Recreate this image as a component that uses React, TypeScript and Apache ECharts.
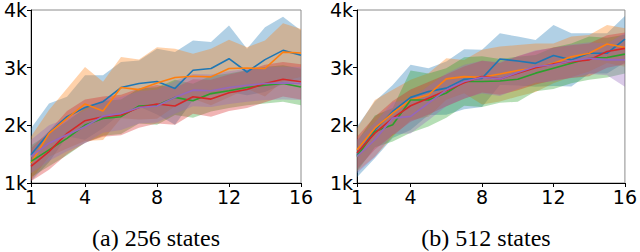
import React, { useEffect, useRef } from "react";
import * as echarts from "echarts";

const XS = [1, 2, 3, 4, 5, 6, 7, 8, 9, 10, 11, 12, 13, 14, 15, 16];
const X_TICKS = [1, 4, 8, 12, 16];
const Y_TICKS = [1000, 2000, 3000, 4000];
const CAPTIONS = ["(a) 256 states", "(b) 512 states"];
const NAMES = ["blue", "orange", "green", "red", "purple"];
const COLORS = ["#1f77b4", "#ff7f0e", "#2ca02c", "#d62728", "#9467bd"];

// ---- (a) 256 states ----
const blueA = [1490, 1870, 2150, 2310, 2410, 2655, 2725, 2760, 2640, 2955, 2985, 3155, 2925, 3140, 3300, 3215];
const orangeA = [1345, 1860, 2120, 2370, 2250, 2655, 2620, 2735, 2830, 2850, 2840, 2985, 2995, 2985, 3270, 3255];
const greenA = [1375, 1575, 1775, 2005, 2120, 2150, 2335, 2350, 2485, 2425, 2550, 2600, 2655, 2695, 2725, 2665];
const redA = [1290, 1545, 1860, 2080, 2150, 2180, 2310, 2370, 2335, 2495, 2455, 2565, 2620, 2725, 2800, 2755];
const purpleA = [1460, 1690, 1835, 1975, 2160, 2205, 2310, 2335, 2485, 2610, 2600, 2655, 2695, 2725, 2735, 2725];

const blueAUp = [1950, 2380, 2495, 2870, 2870, 3100, 3125, 3330, 3270, 3470, 3445, 3730, 3330, 3700, 3885, 3645];
const blueALo = [1030, 1360, 1805, 1750, 1950, 2210, 2325, 2190, 2010, 2440, 2525, 2580, 2520, 2580, 2715, 2785];
const orangeAUp = [1805, 2265, 2640, 3010, 2755, 3185, 3140, 3355, 3330, 3240, 3330, 3485, 3355, 3470, 3770, 3670];
const orangeALo = [1050, 1455, 1600, 1730, 1745, 2125, 2100, 2115, 2330, 2460, 2350, 2485, 2635, 2500, 2770, 2840];
const greenAUp = [1650, 1860, 2070, 2300, 2420, 2450, 2640, 2660, 2790, 2720, 2860, 2900, 2960, 3010, 3040, 2980];
const greenALo = [1100, 1290, 1480, 1700, 1820, 1850, 2030, 2010, 2180, 2130, 2240, 2300, 2350, 2380, 2410, 2350];
const redAUp = [1600, 1900, 2250, 2450, 2500, 2530, 2640, 2700, 2650, 2800, 2790, 2880, 2950, 3050, 3100, 3060];
const redALo = [1030, 1230, 1500, 1700, 1800, 1830, 1960, 2030, 2010, 2200, 2150, 2250, 2300, 2400, 2500, 2450];
const purpleAUp = [1750, 2000, 2120, 2260, 2450, 2490, 2590, 2620, 2770, 2890, 2880, 2940, 2980, 3010, 3020, 3010];
const purpleALo = [1170, 1380, 1550, 1690, 1870, 1920, 2030, 2050, 2200, 2330, 2320, 2370, 2410, 2440, 2450, 2440];

// ---- (b) 512 states ----
const blueB = [1490, 1920, 2240, 2485, 2585, 2645, 2800, 2815, 3150, 3115, 3075, 3210, 3135, 3250, 3250, 3495];
const orangeB = [1575, 1950, 2210, 2440, 2530, 2805, 2845, 2835, 2890, 2950, 3000, 3075, 3190, 3250, 3410, 3350];
const greenB = [1460, 1895, 2010, 2440, 2440, 2560, 2760, 2760, 2770, 2800, 2905, 2990, 3075, 3165, 3175, 3235];
const redB = [1520, 1865, 2125, 2340, 2470, 2605, 2740, 2845, 2805, 2905, 3000, 3065, 3105, 3135, 3280, 3335];
const purpleB = [1460, 1750, 2125, 2155, 2385, 2615, 2760, 2835, 2805, 2915, 3020, 3050, 3115, 3165, 3135, 3135];

const blueBUp = [1980, 2415, 2700, 3050, 2990, 3105, 3320, 3310, 3595, 3540, 3480, 3740, 3595, 3595, 3595, 3895];
const blueBLo = [1100, 1430, 1780, 1920, 2180, 2185, 2280, 2320, 2700, 2690, 2670, 2680, 2675, 2900, 2900, 3090];
const orangeBUp = [1950, 2440, 2615, 2790, 2905, 3165, 3135, 3310, 3365, 3395, 3420, 3420, 3540, 3565, 3740, 3685];
const orangeBLo = [1200, 1460, 1800, 2090, 2150, 2445, 2555, 2360, 2415, 2500, 2580, 2730, 2840, 2935, 3080, 3015];
const greenBUp = [1720, 2170, 2300, 2950, 2900, 2990, 3180, 3200, 3150, 3190, 3220, 3350, 3420, 3540, 3520, 3570];
const greenBLo = [1200, 1620, 1720, 1870, 1980, 2130, 2340, 2320, 2390, 2410, 2590, 2630, 2730, 2790, 2830, 2900];
const redBUp = [1800, 2150, 2420, 2620, 2750, 2880, 3020, 3120, 3080, 3200, 3290, 3350, 3390, 3420, 3560, 3610];
const redBLo = [1240, 1580, 1830, 2060, 2190, 2330, 2460, 2570, 2530, 2610, 2710, 2780, 2820, 2850, 3000, 3060];
const purpleBUp = [1750, 2050, 2400, 2450, 2680, 2900, 3050, 3120, 3100, 3200, 3300, 3340, 3400, 3440, 3420, 3600];
const purpleBLo = [1170, 1450, 1850, 1860, 2090, 2330, 2470, 2550, 2510, 2630, 2740, 2760, 2830, 2890, 2870, 2670];

const PANELS = [
  {
    means: [blueA, orangeA, greenA, redA, purpleA],
    ups: [blueAUp, orangeAUp, greenAUp, redAUp, purpleAUp],
    los: [blueALo, orangeALo, greenALo, redALo, purpleALo],
  },
  {
    means: [blueB, orangeB, greenB, redB, purpleB],
    ups: [blueBUp, orangeBUp, greenBUp, redBUp, purpleBUp],
    los: [blueBLo, orangeBLo, greenBLo, redBLo, purpleBLo],
  },
];

const GRIDS = [
  { left: 31, top: 10, width: 270, height: 173 },
  { left: 357, top: 10, width: 269, height: 173 },
];
const CAPTION_X = [156, 486];

export default function App() {
  const ref = useRef<HTMLDivElement>(null);
  useEffect(() => {
    if (!ref.current) return;
    const chart = echarts.init(ref.current, null, { renderer: "svg" });
    const font = "DejaVu Sans";
    const grid = GRIDS.map((g) => ({
      ...g,
      show: true,
      borderColor: "#8c8c8c",
      borderWidth: 1,
      backgroundColor: "#fff",
    }));
    const xAxis = GRIDS.map((_, i) => ({
      type: "value",
      gridIndex: i,
      min: 1,
      max: 16,
      splitLine: { show: false },
      axisLine: { show: true, onZero: false, lineStyle: { color: "#000", width: 1 } },
      axisTick: { show: true, length: 4, customValues: X_TICKS, lineStyle: { color: "#000" } },
      axisLabel: { customValues: X_TICKS, fontFamily: font, fontSize: 19, color: "#000", margin: 4 },
    }));
    const yAxis = GRIDS.map((_, i) => ({
      type: "value",
      gridIndex: i,
      min: 1000,
      max: 4000,
      interval: 1000,
      splitLine: { show: false },
      axisLine: { show: true, onZero: false, lineStyle: { color: "#000", width: 1 } },
      axisTick: { show: true, length: 4, customValues: Y_TICKS, lineStyle: { color: "#000" } },
      axisLabel: {
        customValues: Y_TICKS,
        fontFamily: font,
        fontSize: 19,
        color: "#000",
        margin: 4,
        formatter: (v: number) => v / 1000 + "k",
      },
    }));
    const series: any[] = [];
    PANELS.forEach((p, pi) => {
      p.means.forEach((_, si) => {
        const up = p.ups[si];
        const lo = p.los[si];
        series.push({
          type: "custom",
          name: NAMES[si] + "-band-" + pi,
          xAxisIndex: pi,
          yAxisIndex: pi,
          silent: true,
          z: 1,
          data: [[XS[0], lo[0]]],
          renderItem: (_params: any, api: any) => {
            const pts: number[][] = [];
            XS.forEach((x, k) => pts.push(api.coord([x, up[k]])));
            for (let k = XS.length - 1; k >= 0; k--) pts.push(api.coord([XS[k], lo[k]]));
            return {
              type: "polygon",
              shape: { points: pts },
              style: { fill: COLORS[si], opacity: 0.35 },
            };
          },
        });
      });
      p.means.forEach((m, si) => {
        series.push({
          type: "line",
          name: NAMES[si] + "-" + pi,
          xAxisIndex: pi,
          yAxisIndex: pi,
          z: 3,
          symbol: "none",
          silent: true,
          data: XS.map((x, k) => [x, m[k]]),
          lineStyle: { color: COLORS[si], width: 1.6 },
        });
      });
    });
    chart.setOption({
      animation: false,
      grid,
      xAxis,
      yAxis,
      series,
      title: CAPTIONS.map((c, i) => ({
        text: c,
        left: CAPTION_X[i],
        top: 226,
        textAlign: "center",
        padding: 0,
        textStyle: {
          fontFamily: "Liberation Serif",
          fontSize: 24,
          fontWeight: "normal",
          color: "#000",
        },
      })),
    });
    return () => chart.dispose();
  }, []);
  return (
    <div
      ref={ref}
      style={{ position: "fixed", left: 0, top: 0, width: 640, height: 252, background: "#fff" }}
    />
  );
}
